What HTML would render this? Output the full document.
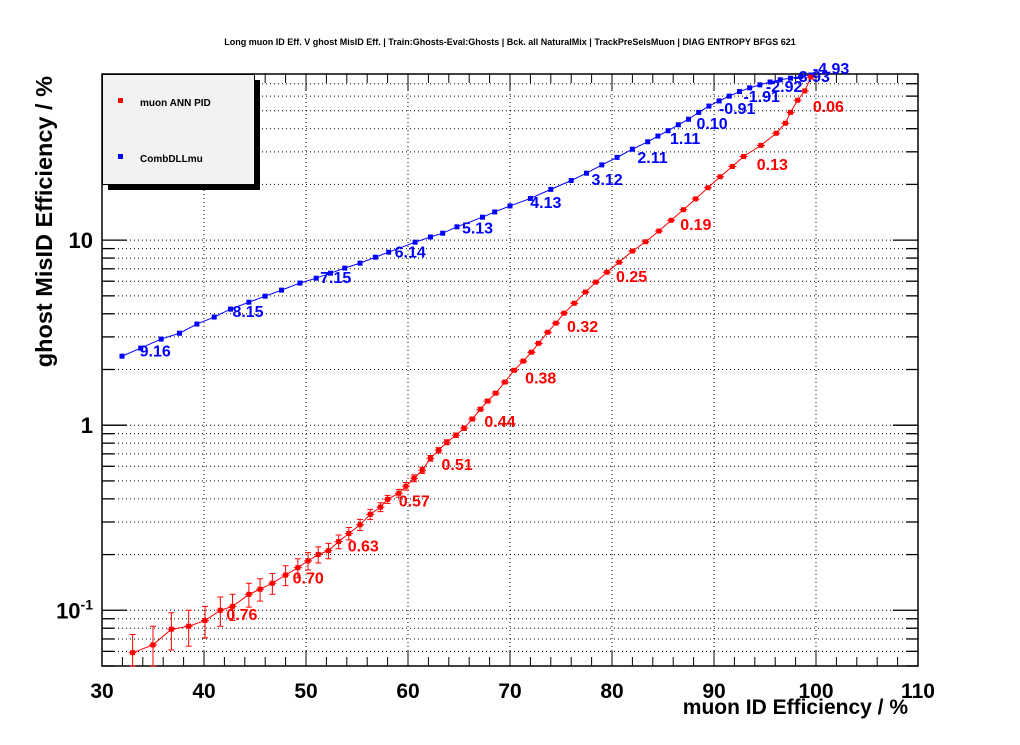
<!DOCTYPE html>
<html><head><meta charset="utf-8"><style>
body{margin:0;background:#fff;}
svg text{font-family:"Liberation Sans",sans-serif;font-weight:bold;}
</style></head><body>
<svg id="chart" width="1020" height="740" xmlns="http://www.w3.org/2000/svg">
<rect x="0" y="0" width="1020" height="740" fill="#fff"/>
<text x="510" y="45" font-size="9" text-anchor="middle">Long muon ID Eff. V ghost MisID Eff. | Train:Ghosts-Eval:Ghosts | Bck. all NaturalMix | TrackPreSelsMuon | DIAG ENTROPY BFGS 621</text>
<g id="grid"></g>
<g id="ticks"></g>
<rect x="102" y="74" width="816" height="592" fill="none" stroke="#000" stroke-width="1.5"/>
<g id="series"></g>
<g id="labels"></g>
<g>
<rect x="108" y="80" width="152" height="110" fill="#000"/>
<rect x="102.5" y="74.5" width="152" height="110" fill="#f2f2f2" stroke="#000" stroke-width="1"/>
<rect x="118" y="98" width="5" height="5" fill="#f00"/>
<text x="140" y="106" font-size="10">muon ANN PID</text>
<rect x="118" y="154" width="5" height="5" fill="#00f"/>
<text x="140" y="162" font-size="10">CombDLLmu</text>
</g>
<text x="908" y="714" font-size="21" text-anchor="end">muon ID Efficiency / %</text>
<text transform="translate(52,76) rotate(-90)" font-size="23.5" text-anchor="end">ghost MisID Efficiency / %</text>
</svg>
<script>
const xTicks=[30,40,50,60,70,80,90,100,110];
const yMajor=[0.1,1,10];
const redX=[33,35,36.8,38.5,40.1,41.6,42.8,44.4,45.5,46.7,48,49.2,50.2,51.2,52.2,53.2,54.2,55.3,56.3,57.3,58.0,59.1,59.8,60.6,61.4,62.2,63.0,63.8,64.7,65.5,66.3,67.1,67.8,68.6,69.5,70.4,71.3,72.1,72.8,73.7,74.5,75.3,76.3,77.4,78.4,79.5,80.7,82.0,83.3,84.6,85.8,87.0,88.2,89.4,90.6,91.8,92.9,94.6,96.1,97.0,97.5,98.2,98.9,99.5];
const redY=[0.059,0.065,0.079,0.082,0.088,0.10,0.105,0.122,0.13,0.14,0.155,0.17,0.185,0.20,0.21,0.235,0.26,0.29,0.33,0.361,0.398,0.429,0.468,0.517,0.571,0.663,0.733,0.809,0.883,0.964,1.08,1.22,1.35,1.49,1.71,1.98,2.22,2.48,2.77,3.18,3.56,4.03,4.56,5.24,5.93,6.71,7.6,8.73,9.8,11.2,12.8,14.6,16.7,19.2,22,25,28.3,32.5,37.8,42.8,49,57,64,76];
const redErr=[0.015,0.017,0.018,0.018,0.017,0.018,0.017,0.018,0.018,0.018,0.019,0.02,0.02,0.02,0.02,0.02,0.02,0.02,0.021,0.02,0.02,0.021,0.022,0.022,0.022,0.023,0.024,0.025,0.025,0.026,0.027,0.028,0.029,0.03,0.03,0.03,0.03,0.03,0.03,0.03,0.03,0.03,0.03,0.03,0.03,0.03,0.03,0.03,0.03,0.03,0.03,0.03,0.03,0.03,0.03,0.03,0.03,0.03,0.03,0.03,0.03,0.03,0.03,0.03];
const blueX=[31.96,33.8,35.8,37.6,39.3,41.0,42.6,44.4,46.0,47.6,49.4,51.0,52.4,53.8,55.3,56.8,58.1,60.7,62.2,63.4,64.8,67.3,68.5,70,72,74,76,77.5,79,80.5,82,83.5,84.5,85.5,86.5,87.5,88.5,89.5,90.5,91.5,92.5,93.5,94.5,95.5,96.5,97.5,98.5,99.5];
const blueY=[2.36,2.61,2.92,3.14,3.52,3.84,4.24,4.62,4.98,5.37,5.86,6.23,6.63,7.06,7.51,8.09,8.61,9.75,10.4,10.9,11.8,13.3,14.2,15.3,16.8,18.8,21,23,25.5,28,31,34,36.5,39,42,45,49,53,56.5,60,63.5,66.5,69,71.5,73.5,75,76.5,78];
const redLabels=["0.06","0.13","0.19","0.25","0.32","0.38","0.44","0.51","0.57","0.63","0.70","0.76"];
const redLabX=[99.1,93.6,86.1,79.8,75.0,70.9,66.9,62.7,58.5,53.5,48.1,41.6];
const redLabY=[57.8,28.1,13.3,6.97,3.74,1.98,1.15,0.672,0.428,0.245,0.164,0.104];
const blueLabels=["9.16","8.15","7.15","6.14","5.13","4.13","3.12","2.11","1.11","0.10","-0.91","-1.91","-2.92","-3.93","-4.93"];
const blueLabX=[33.1,42.2,50.8,58.1,64.7,71.4,77.4,81.9,85.1,87.7,89.9,92.3,94.5,97.2,99.1];
const blueLabY=[2.77,4.51,6.89,9.5,12.8,17.5,23.3,30.6,38.8,46.8,56.3,65.5,74.2,84,92.9];

const NS="http://www.w3.org/2000/svg";
const X0=102,X1=918,Y0=666,Y1=74,XMIN=30,XMAX=110,LMIN=Math.log10(0.05),LMAX=Math.log10(79);
function sx(v){return X0+(v-XMIN)/(XMAX-XMIN)*(X1-X0);}
function sy(v){return Y0-(Math.log10(v)-LMIN)/(LMAX-LMIN)*(Y0-Y1);}
function mk(tag,attrs,parent){const e=document.createElementNS(NS,tag);for(const k in attrs)e.setAttribute(k,attrs[k]);parent.appendChild(e);return e;}
const grid=document.getElementById('grid'),ticks=document.getElementById('ticks'),series=document.getElementById('series'),labels=document.getElementById('labels'),svg=document.getElementById('chart');

for(let v=30;v<=110;v+=2){
  const x=sx(v),major=(v%10===0);
  if(major&&v>30&&v<110){const g=mk('line',{x1:x,x2:x,y1:Y1,y2:Y0,stroke:'#000','stroke-dasharray':'1,3'},grid);
  
  }
  const L=major?16:9;
  const t1=mk('line',{x1:x,x2:x,y1:Y0,y2:Y0-L,stroke:'#000'},ticks);
  
  
  const t2=mk('line',{x1:x,x2:x,y1:Y1,y2:Y1+L,stroke:'#000'},ticks);
  
  
}
xTicks.forEach(v=>{const t=mk('text',{x:sx(v),y:698,'font-size':21,'text-anchor':'middle'},svg);t.textContent=v;
  
  });
[0.01,0.1,1,10].forEach(d=>{for(let m=1;m<=9;m++){const v=d*m;if(v<0.05||v>79)continue;const y=sy(v);const major=(m===1);
  const g=mk('line',{x1:X0,x2:X1,y1:y,y2:y,stroke:'#000','stroke-dasharray':'1,3'},grid);
  
  
  const L=major?25:12;
  const t1=mk('line',{x1:X0,x2:X0+L,y1:y,y2:y,stroke:'#000','stroke-width':1.3},ticks);
  
  
  const t2=mk('line',{x1:X1,x2:X1-L,y1:y,y2:y,stroke:'#000','stroke-width':1.3},ticks);
  
  
}});
yMajor.forEach(v=>{const y=sy(v);const t=mk('text',{x:93,y:y+8,'font-size':22,'text-anchor':'end'},svg);
  if(v===0.1){t.innerHTML='10<tspan dy="-9" font-size="14">-1</tspan>';}else t.textContent=v;
  
  });

function drawSeries(xs,ys,errs,color,name){
  const pts=xs.map((x,i)=>sx(x)+','+sy(ys[i])).join(' ');
  const pl=mk('polyline',{points:pts,fill:'none',stroke:color,'stroke-width':1},series);
  
  
  xs.forEach((x,i)=>{
    const px=sx(x),py=sy(ys[i]);
    if(errs){const lo=Math.max(ys[i]-errs[i],0.04),hi=ys[i]+errs[i];
      const e=mk('path',{d:`M${px},${Math.min(sy(lo),Y0)}V${sy(hi)}M${px-3},${sy(hi)}h6M${px-3},${Math.min(sy(lo),Y0)}h6M${px-4},${py}h8`,stroke:color,'stroke-width':1,fill:'none'},series);
      
      }
    const r=mk('rect',{x:px-2.5,y:py-2.5,width:5,height:5,fill:color},series);
    
    
  });
}
drawSeries(blueX,blueY,null,'#00f','combdllmu');
drawSeries(redX,redY,redErr,'#f00','muon-ann');

function drawLabels(txt,lx,ly,color,name){
  txt.forEach((s,i)=>{const t=mk('text',{x:sx(lx[i])+6,y:sy(ly[i])+13,'font-size':16,fill:color},labels);t.textContent=s;
    
    });
}
drawLabels(redLabels,redLabX,redLabY,'#f00','muon-ann');
drawLabels(blueLabels,blueLabX,blueLabY,'#00f','combdllmu');
</script>
</body></html>
